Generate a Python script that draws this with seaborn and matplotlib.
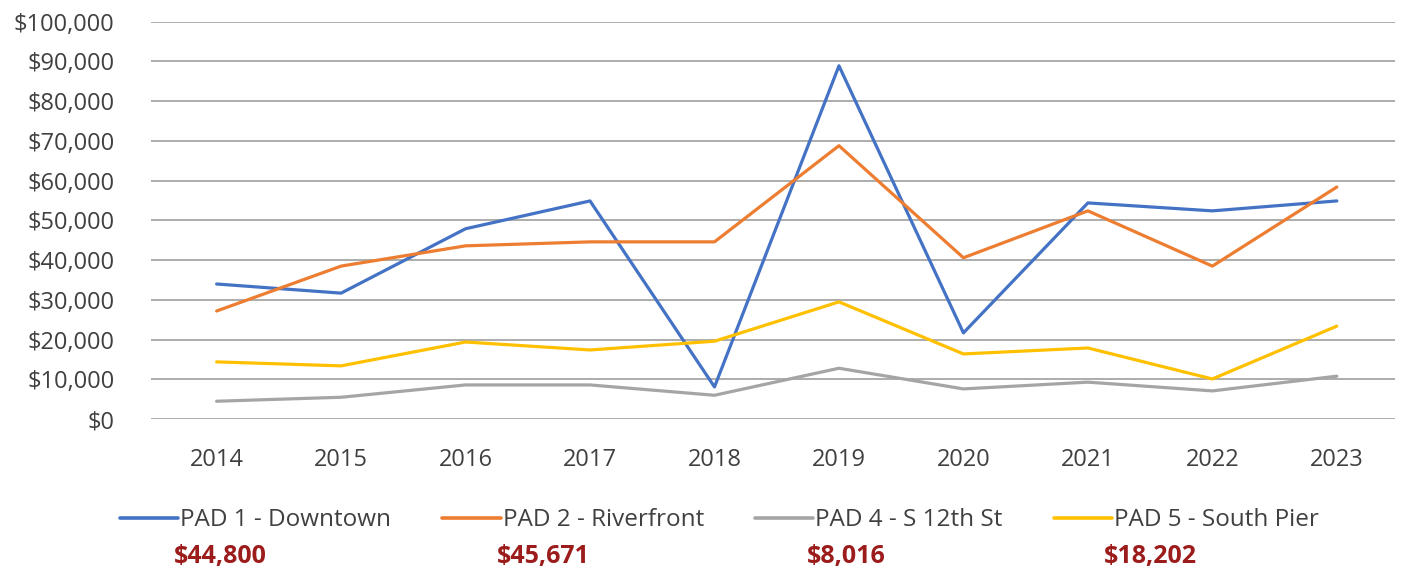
import numpy as np
import matplotlib.pyplot as plt
import pandas as pd
import seaborn as sns

years = ['2014', '2015', '2016', '2017', '2018', '2019', '2020', '2021', '2022', '2023']
pad1 = [34000, 31700, 47900, 54900, 8100, 88900, 21700, 54400, 52400, 54900]
pad2 = [27200, 38500, 43600, 44600, 44600, 68800, 40600, 52400, 38500, 58400]
pad4 = [4500, 5500, 8600, 8600, 6000, 12800, 7600, 9300, 7100, 10800]
pad5 = [14400, 13400, 19400, 17400, 19600, 29500, 16400, 17900, 10100, 23400]
names = ['PAD 1 - Downtown', 'PAD 2 - Riverfront', 'PAD 4 - S 12th St', 'PAD 5 - South Pier']
averages = ['$44,800', '$45,671', '$8,016', '$18,202']
colors = ['#4472C4', '#ED7D31', '#A5A5A5', '#FFC000']

rows = []
for name, vals in zip(names, [pad1, pad2, pad4, pad5]):
    for i, v in enumerate(vals):
        rows.append({'pos': i, 'year': years[i], 'value': v, 'series': name})
df = pd.DataFrame(rows)

sns.set_style('white')
plt.rcParams['font.family'] = ['Open Sans', 'DejaVu Sans']

fig = plt.figure(figsize=(14.08, 5.71), dpi=100)
ax = fig.add_axes([0.107, 0.266, 0.884, 0.696])

sns.lineplot(data=df, x='pos', y='value', hue='series', palette=colors,
             linewidth=2.3, ax=ax, legend=False)

ax.set_xlim(-0.53, 9.47)
ax.set_ylim(0, 100000)
ax.set_yticks(np.arange(0, 100001, 10000))
ax.set_yticklabels(['${:,.0f}'.format(v) for v in np.arange(0, 100001, 10000)])
ax.set_xticks(range(len(years)))
ax.set_xticklabels(years)
ax.tick_params(axis='both', length=0, labelsize=17, colors='#404040')
ax.tick_params(axis='x', pad=21)
ax.tick_params(axis='y', pad=26)
ax.grid(axis='y', color='#a6a6a6', linewidth=1.3)
ax.set_axisbelow(True)
for s in ax.spines.values():
    s.set_visible(False)
ax.set_xlabel('')
ax.set_ylabel('')

handles = [plt.Line2D([], [], color=c, linewidth=2.6) for c in colors]
fig.legend(handles, names, loc='center', bbox_to_anchor=(0.511, 0.089), ncol=4,
           frameon=False, fontsize=17.5, handlelength=2.4, handletextpad=0.08,
           columnspacing=2.1, labelcolor='#404040')

for xpos, txt in zip([220, 543, 846, 1150], averages):
    fig.text(xpos / 1408, 1 - 556 / 571, txt, ha='center', va='center',
             fontsize=18, fontweight='bold', color='#9C1B1B')

fig.savefig('out.png', dpi=100)
